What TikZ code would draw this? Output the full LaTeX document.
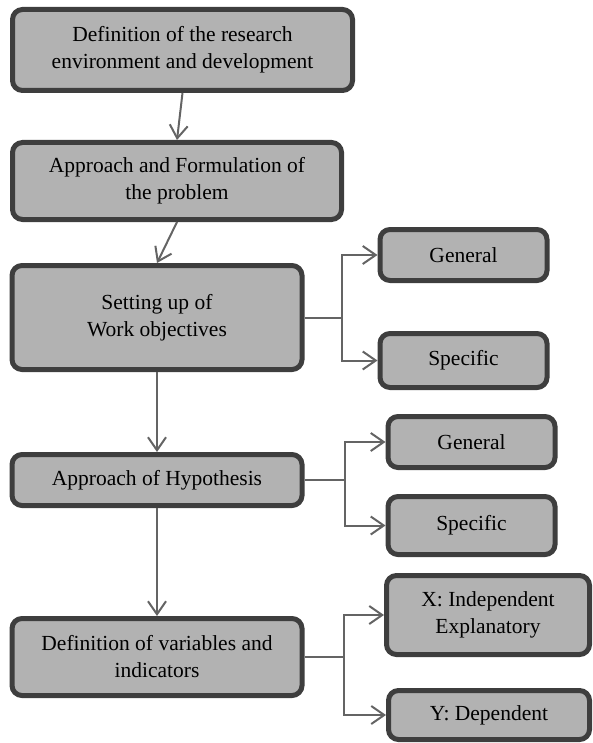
\documentclass[tikz,border=0pt]{standalone}
\usepackage{fontspec}
\setmainfont{LiberationSerif}[Extension=.ttf,UprightFont=*-Regular,BoldFont=*-Bold]
\usetikzlibrary{arrows.meta}
\definecolor{cFill}  {RGB}{178,178,178}
\definecolor{cEdge}  {RGB}{62,62,62}
\definecolor{cLine}  {RGB}{100,100,100}
\def\Wmain{290pt}
\def\Wside{167pt}
\newcommand{\forkTo}[4]{%
  % ligação em cotovelo: caixa #1 -> caixas #2 e #3
  \draw[link] (#1.east) -- ++(#4,0) coordinate (#1-j);
  \draw[link,-{Straight Barb[length=13pt,width=18pt]}] (#1-j) |- (#2.west);
  \draw[link,-{Straight Barb[length=13pt,width=18pt]}] (#1-j) |- (#3.west);
}

\begin{document}
\begin{tikzpicture}[x=1pt,y=-1pt,
  box/.style={draw=cEdge,fill=cFill,line width=5pt,rounded corners=10pt,
    align=center,font=\fontsize{21.5}{27}\selectfont,inner sep=2pt},
  link/.style={draw=cLine,line width=2pt},
  down/.style={link,-{Straight Barb[length=13pt,width=18pt]}}]

% moldura
\useasboundingbox (0,0) rectangle (593,743);

% =================== COLUNA PRINCIPAL ===================
\node[box,minimum width=340pt,minimum height=81pt] (envir) at (182.5,50)
  {Definition of the research\\environment and development};
\node[box,minimum width=329pt,minimum height=77pt] (probl) at (177,181)
  {Approach and Formulation of\\the problem};
\node[box,minimum width=\Wmain,minimum height=104pt] (objct) at (157,317.5)
  {Setting up of\\Work objectives};
\node[box,minimum width=\Wmain,minimum height=51pt] (hypot) at (157,480)
  {Approach of Hypothesis};
\node[box,minimum width=\Wmain,minimum height=77pt] (varbl) at (157,657)
  {Definition of variables and\\indicators};

\draw[down] (envir.south) -- (probl.north);
\draw[down] (probl.south) -- (objct.north);
\draw[down] (objct.south) -- (hypot.north);
\draw[down] (hypot.south) -- (varbl.north);

% =================== RAMOS ===================
\node[box,minimum width=\Wside,minimum height=51pt] (genObj) at (463.5,255) {General};
\node[box,minimum width=\Wside,minimum height=54pt] (speObj) at (463.5,360.5) {Specific};
\node[box,minimum width=\Wside,minimum height=51pt] (genHyp) at (471.5,442) {General};
\node[box,minimum width=\Wside,minimum height=58pt] (speHyp) at (471.5,525.5) {Specific};
\node[box,minimum width=203pt,minimum height=79pt] (indVar) at (488,615)
  {X: Independent\\Explanatory};
\node[box,minimum width=201pt,minimum height=49pt] (depVar) at (489,715)
  {Y: Dependent};

\forkTo{objct}{genObj}{speObj}{37}
\forkTo{hypot}{genHyp}{speHyp}{40}
\forkTo{varbl}{indVar}{depVar}{39}

\end{tikzpicture}
\end{document}
